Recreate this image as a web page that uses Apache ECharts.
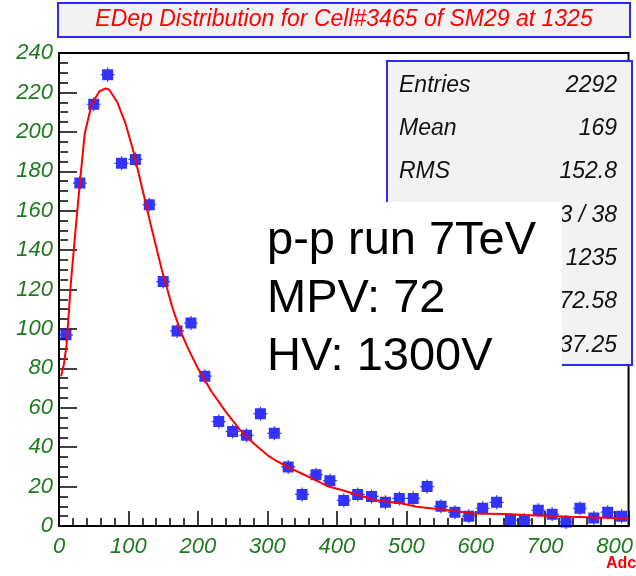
<!DOCTYPE html>
<html>
<head>
<meta charset="utf-8">
<script src="https://cdn.jsdelivr.net/npm/echarts@6/dist/echarts.min.js"></script>
<style>
  html, body { margin: 0; padding: 0; background: #ffffff; }
  #chart { width: 636px; height: 576px; }
</style>
</head>
<body>
<div id="chart"></div>
<script>
// Histogram of deposited energy (ADC counts), 20-ADC bins
const binCenters = [10, 30, 50, 70, 90, 110, 130, 150, 170, 190,
                    210, 230, 250, 270, 290, 310, 330, 350, 370, 390,
                    410, 430, 450, 470, 490, 510, 530, 550, 570, 590,
                    610, 630, 650, 670, 690, 710, 730, 750, 770, 790, 810];
const binCounts = [97, 174, 214, 229, 184, 186, 163, 124, 99, 103,
                   76, 53, 48, 46, 57, 47, 30, 16, 26, 23,
                   13, 16, 15, 12, 14, 14, 20, 10, 7, 5,
                   9, 12, 3, 3, 8, 6, 2, 9, 4, 7, 5];

// Landau fit curve, sampled along the ADC axis
const fitAdc = [3, 7, 11, 17, 23, 30, 37, 47, 58, 67, 72, 84, 96, 108, 120, 132,
                148, 164, 176, 186, 200, 220, 240, 260, 280, 300, 313, 329, 350,
                369, 388, 407, 431, 454, 492, 515, 548, 576, 595, 642, 670, 736, 811, 820];
const fitValue = [76, 82, 92, 123, 147, 174, 199, 214, 220.5, 222, 221.5, 215, 204, 189, 171, 153,
                  130, 110, 98, 90, 80, 68, 58, 49, 42, 36, 33, 30, 26.5,
                  23.4, 20, 18.3, 15.7, 13.2, 11.5, 9.8, 8.5, 7.3, 6.4, 6.1, 5.6, 4.7, 3.9, 3.8];

const titleText = 'EDep Distribution for Cell#3465 of SM29 at 1325';
const statLabels = ['Entries', 'Mean', 'RMS', 'χ² / ndf', 'Constant', 'MPV', 'Sigma'];
const statValues = ['2292', '169', '152.8', '45.3 / 38', '1235', '72.58', '37.25'];
const noteLines = ['p-p run 7TeV', 'MPV: 72', 'HV: 1300V'];
const xAxisTitle = 'Adc';

const GREEN = '#1f7a1f';
const SANS = "'Liberation Sans', Arial, sans-serif";

const histPoints = binCenters.map((x, i) => [x, binCounts[i]]);
const fitPoints = fitAdc.map((x, i) => [x, fitValue[i]]);

// filled square marker with short error-bar arms
const markerPath = 'path://M1.5,1.5H12.5V12.5H1.5Z M0,6.4H14V7.6H0Z M6.4,0H7.6V14H6.4Z';

// statistics box
const statBox = { x: 387, y: 61, w: 245, h: 304 };
const statChildren = [{
  type: 'rect',
  shape: { x: statBox.x, y: statBox.y, width: statBox.w, height: statBox.h },
  style: { fill: '#f2f2f2', stroke: '#2b2bff', lineWidth: 2 }
}];
statLabels.forEach((lab, i) => {
  const cy = 85.5 + i * 43.3;
  statChildren.push({
    type: 'text', x: statBox.x + 12, y: cy,
    style: { text: lab, font: 'italic 23px ' + SANS, fill: '#111', verticalAlign: 'middle', align: 'left' }
  });
  statChildren.push({
    type: 'text', x: statBox.x + 230, y: cy,
    style: { text: statValues[i], font: 'italic 23px ' + SANS, fill: '#111', verticalAlign: 'middle', align: 'right' }
  });
});

// white annotation panel laid over the stats box
const noteChildren = [{
  type: 'rect',
  shape: { x: 250, y: 202, width: 312, height: 178 },
  style: { fill: '#ffffff' }
}];
noteLines.forEach((t, i) => {
  noteChildren.push({
    type: 'text', x: 267, y: 241 + i * 58,
    style: { text: t, font: '47px ' + SANS, fill: '#000', verticalAlign: 'middle', align: 'left' }
  });
});

const chart = echarts.init(document.getElementById('chart'), null, { renderer: 'canvas' });

chart.setOption({
  animation: false,
  backgroundColor: '#ffffff',
  grid: {
    left: 59, right: -3, top: 53, bottom: 50,
    show: true, backgroundColor: '#ffffff', borderColor: '#000', borderWidth: 2
  },
  xAxis: {
    type: 'value', min: 0, max: 820, interval: 100,
    axisLine: { onZero: false, lineStyle: { color: '#000', width: 2 } },
    axisTick: { inside: true, length: 15, lineStyle: { color: '#000', width: 1.5 } },
    minorTick: { show: true, splitNumber: 5, length: 8, lineStyle: { color: '#000', width: 1.5 } },
    splitLine: { show: false },
    axisLabel: {
      margin: 10, color: GREEN, fontStyle: 'italic', fontSize: 22, fontFamily: SANS,
      formatter: v => (v % 100 === 0 ? String(v) : '')
    }
  },
  yAxis: {
    type: 'value', min: 0, max: 240, interval: 20,
    axisLine: { onZero: false, lineStyle: { color: '#000', width: 2 } },
    axisTick: { inside: true, length: 18, lineStyle: { color: '#000', width: 1.5 } },
    minorTick: { show: true, splitNumber: 4, length: 9, lineStyle: { color: '#000', width: 1.5 } },
    splitLine: { show: false },
    axisLabel: { margin: 6, color: GREEN, fontStyle: 'italic', fontSize: 22, fontFamily: SANS }
  },
  series: [
    {
      type: 'scatter', data: histPoints,
      symbol: markerPath, symbolSize: [14, 14],
      itemStyle: { color: '#0000ff' }, z: 3
    },
    {
      type: 'line', data: fitPoints, showSymbol: false, symbol: 'none',
      smooth: false, lineStyle: { color: '#ff0000', width: 2 }, z: 4
    }
  ],
  graphic: [
    {
      type: 'group', z: 50,
      children: [
        { type: 'rect', shape: { x: 58, y: 3, width: 572, height: 34 },
          style: { fill: '#f2f2f2', stroke: '#2b2bff', lineWidth: 2 } },
        { type: 'text', x: 344, y: 20,
          style: { text: titleText, font: 'italic 23px ' + SANS, fill: '#ff0000',
                   align: 'center', verticalAlign: 'middle' } }
      ]
    },
    { type: 'group', z: 60, children: statChildren },
    { type: 'group', z: 70, children: noteChildren },
    {
      type: 'text', z: 80, x: 606, y: 556,
      style: { text: xAxisTitle, font: 'bold 16px ' + SANS, fill: '#ff0000', align: 'left', verticalAlign: 'top' }
    }
  ]
});
</script>
</body>
</html>
